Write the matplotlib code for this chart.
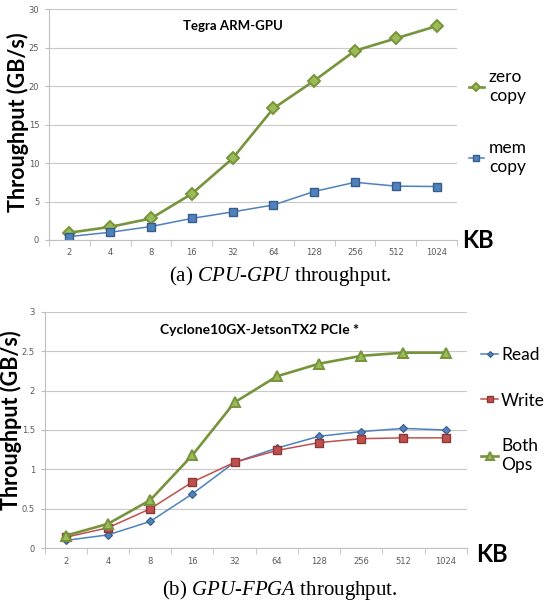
import matplotlib

matplotlib.use("Agg")

import matplotlib.pyplot as plt
import numpy as np

plt.rcParams["mathtext.fontset"] = "custom"
plt.rcParams["mathtext.rm"] = "Liberation Serif"
plt.rcParams["mathtext.it"] = "Liberation Serif:italic"

KB_LABELS = ["2", "4", "8", "16", "32", "64", "128", "256", "512", "1024"]

# (a) CPU-GPU throughput, GB/s
ZERO_COPY = [0.95, 1.7, 2.8, 6.0, 10.6, 17.1, 20.7, 24.6, 26.2, 27.8]
MEM_COPY = [0.45, 1.0, 1.75, 2.8, 3.65, 4.55, 6.3, 7.5, 7.0, 6.95]

# (b) GPU-FPGA throughput, GB/s
READ = [0.10, 0.17, 0.34, 0.69, 1.09, 1.27, 1.42, 1.48, 1.52, 1.50]
WRITE = [0.14, 0.26, 0.50, 0.84, 1.09, 1.24, 1.34, 1.39, 1.40, 1.40]
BOTH_OPS = [0.16, 0.31, 0.61, 1.18, 1.85, 2.18, 2.34, 2.44, 2.48, 2.48]

GREEN = "#77933C"
GREEN_FACE = "#9BBB59"
BLUE = "#4F81BD"
BLUE_EDGE = "#385D8A"
RED = "#C0504D"
RED_EDGE = "#8C3836"
LABEL_FONT = "Lato"


def style_axes(ax, ymax, ystep, label_xy, kb_offset_px):
    n = len(KB_LABELS)
    x = np.arange(n)
    ax.set_xlim(-0.5, n - 0.5)
    ax.set_ylim(0, ymax)
    ax.set_xticks(x)
    ax.set_xticklabels(KB_LABELS)
    ax.set_xticks(np.arange(n + 1) - 0.5, minor=True)
    ax.tick_params(axis="x", which="major", length=0, labelsize=6, colors="#595959", pad=6)
    ax.tick_params(axis="x", which="minor", length=4, color="#BFBFBF")
    ax.set_yticks(np.arange(0, ymax + ystep / 2, ystep))
    ax.yaxis.set_major_formatter(matplotlib.ticker.FuncFormatter(lambda v, _: f"{v:g}"))
    ax.tick_params(axis="y", length=3, labelsize=6, colors="#595959", pad=4)
    ax.tick_params(axis="y", color="#BFBFBF")
    ax.grid(axis="y", color="#C8C8C8", linewidth=0.8)
    ax.set_axisbelow(True)
    for side in ("top", "right"):
        ax.spines[side].set_visible(False)
    for side in ("left", "bottom"):
        ax.spines[side].set_color("#BFBFBF")
        ax.spines[side].set_linewidth(0.8)
    ax.set_ylabel("Throughput (GB/s)", fontsize=15.5, fontweight="bold", family=LABEL_FONT)
    ax.yaxis.label.set_va("center")
    ax.yaxis.set_label_coords(*label_xy)
    kb_dx, kb_dy = kb_offset_px
    ax.annotate("KB", xy=(1, 0), xycoords="axes fraction", xytext=(kb_dx, -kb_dy),
                textcoords="offset pixels", fontsize=17, fontweight="bold",
                family=LABEL_FONT, va="baseline", ha="left")
    return x


fig = plt.figure(figsize=(5.44, 6.01), dpi=100)

ax1 = fig.add_axes([0.090, 0.6007, 0.75, 0.384])
x = style_axes(ax1, 30, 5, (-0.075, 0.511), (5, 8))
ax1.plot(x, ZERO_COPY, color=GREEN, linewidth=1.9, marker="D", markersize=6,
         markerfacecolor=GREEN_FACE, markeredgecolor=GREEN, markeredgewidth=1.4, label="zero\ncopy")
ax1.plot(x, MEM_COPY, color=BLUE, linewidth=1.1, marker="s", markersize=5.8,
         markerfacecolor=BLUE, markeredgecolor=BLUE_EDGE, markeredgewidth=1.0, label="mem\ncopy")
ax1.text(0.452, 0.926, "Tegra ARM-GPU", transform=ax1.transAxes, fontsize=9.5, fontweight="bold",
         family=LABEL_FONT, ha="center", va="center")
ax1.legend(loc="center left", bbox_to_anchor=(1.029, 0.511), frameon=False, borderpad=0,
           borderaxespad=0, prop={"family": LABEL_FONT, "size": 12.5}, handlelength=0.85,
           handletextpad=0.3, labelspacing=2.1, markerscale=0.7)

ax2 = fig.add_axes([0.082, 0.0877, 0.776, 0.3937])
x = style_axes(ax2, 3, 0.5, (-0.080, 0.542), (9, 14))
ax2.plot(x, READ, color=BLUE, linewidth=1.1, marker="D", markersize=4.3,
         markerfacecolor=BLUE, markeredgecolor=BLUE_EDGE, markeredgewidth=0.8, label="Read")
ax2.plot(x, WRITE, color=RED, linewidth=1.1, marker="s", markersize=5.5,
         markerfacecolor=RED, markeredgecolor=RED_EDGE, markeredgewidth=1.0, label="Write")
ax2.plot(x, BOTH_OPS, color=GREEN, linewidth=1.9, marker="^", markersize=7.5,
         markerfacecolor=GREEN_FACE, markeredgecolor=GREEN, markeredgewidth=1.4, label="Both\nOps")
ax2.text(0.509, 0.923, "Cyclone10GX-JetsonTX2 PCIe *", transform=ax2.transAxes, fontsize=10,
         fontweight="bold", family=LABEL_FONT, ha="center", va="center")
ax2.legend(loc="center left", bbox_to_anchor=(1.034, 0.585), frameon=False, borderpad=0,
           borderaxespad=0, prop={"family": LABEL_FONT, "size": 12.5}, handlelength=1.0,
           handletextpad=0.15, labelspacing=1.7, markerscale=0.7)

fig.text(0.515, 1 - 276 / 601, r"(a) $\mathit{CPU}$-$\mathit{GPU}$ throughput.", fontsize=15,
         family="Liberation Serif", ha="center", va="center")
fig.text(0.515, 1 - 590 / 601, r"(b) $\mathit{GPU}$-$\mathit{FPGA}$ throughput.", fontsize=15,
         family="Liberation Serif", ha="center", va="center")

fig.savefig("out.png", dpi=100)
